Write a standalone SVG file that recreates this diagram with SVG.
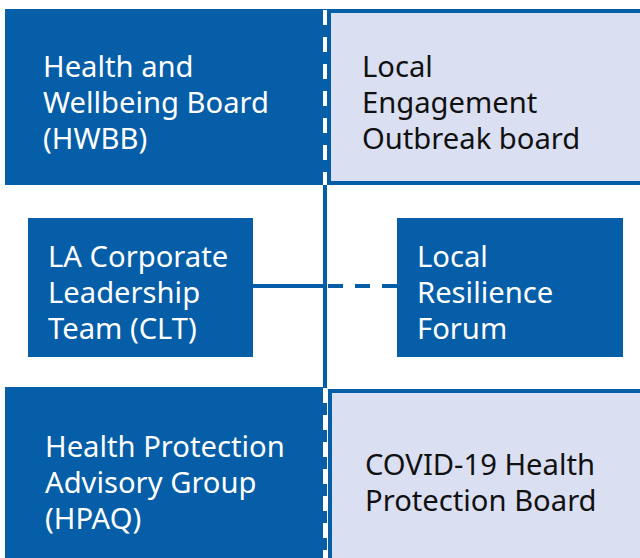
<svg xmlns="http://www.w3.org/2000/svg" width="640" height="558" viewBox="0 0 640 558">
<style>
.dark{fill:#055ea7}
.light{fill:#dadff2;stroke:#055ea7;stroke-width:4}
.tw{font-family:"Noto Sans","Open Sans",sans-serif;font-size:29.2px;fill:#ffffff}
.tb{font-family:"Noto Sans","Open Sans",sans-serif;font-size:29.2px;fill:#111111}
</style>
<rect width="640" height="558" fill="#ffffff"/>
<g id="hwbb">
<rect class="dark" x="5" y="9" width="322" height="176"/>
<text class="tw"><tspan x="43" y="77">Health and</tspan><tspan x="43" y="113">Wellbeing Board</tspan><tspan x="43" y="149">(HWBB)</tspan></text>
</g>
<g id="local-engagement">
<rect class="light" x="329" y="11" width="313" height="172"/>
<text class="tb"><tspan x="362" y="77">Local</tspan><tspan x="362" y="113">Engagement</tspan><tspan x="362" y="149">Outbreak board</tspan></text>
</g>
<g id="hpaq">
<rect class="dark" x="5" y="387" width="322" height="175"/>
<text class="tw"><tspan x="45" y="457">Health Protection</tspan><tspan x="45" y="493">Advisory Group</tspan><tspan x="45" y="529">(HPAQ)</tspan></text>
</g>
<g id="covid">
<rect class="light" x="330" y="391" width="312" height="175"/>
<text class="tb"><tspan x="365" y="475">COVID-19 Health</tspan><tspan x="365" y="511">Protection Board</tspan></text>
</g>
<g id="connectors">
<line x1="325" y1="9" x2="325" y2="558" stroke="#055ea7" stroke-width="4"/>
<line x1="325" y1="10" x2="325" y2="185" stroke="#ffffff" stroke-width="4" stroke-dasharray="15 12"/>
<line x1="325" y1="388" x2="325" y2="558" stroke="#ffffff" stroke-width="4" stroke-dasharray="15 12"/>
<line x1="253" y1="286" x2="327" y2="286" stroke="#055ea7" stroke-width="4"/>
<line x1="328" y1="286" x2="397" y2="286" stroke="#055ea7" stroke-width="4" stroke-dasharray="15 12"/>
</g>
<g id="la-clt">
<rect class="dark" x="28" y="218" width="225" height="139"/>
<text class="tw"><tspan x="48" y="267">LA Corporate</tspan><tspan x="48" y="303">Leadership</tspan><tspan x="48" y="339">Team (CLT)</tspan></text>
</g>
<g id="lrf">
<rect class="dark" x="397" y="218" width="226" height="139"/>
<text class="tw"><tspan x="417" y="267">Local</tspan><tspan x="417" y="303">Resilience</tspan><tspan x="417" y="339">Forum</tspan></text>
</g>
</svg>
